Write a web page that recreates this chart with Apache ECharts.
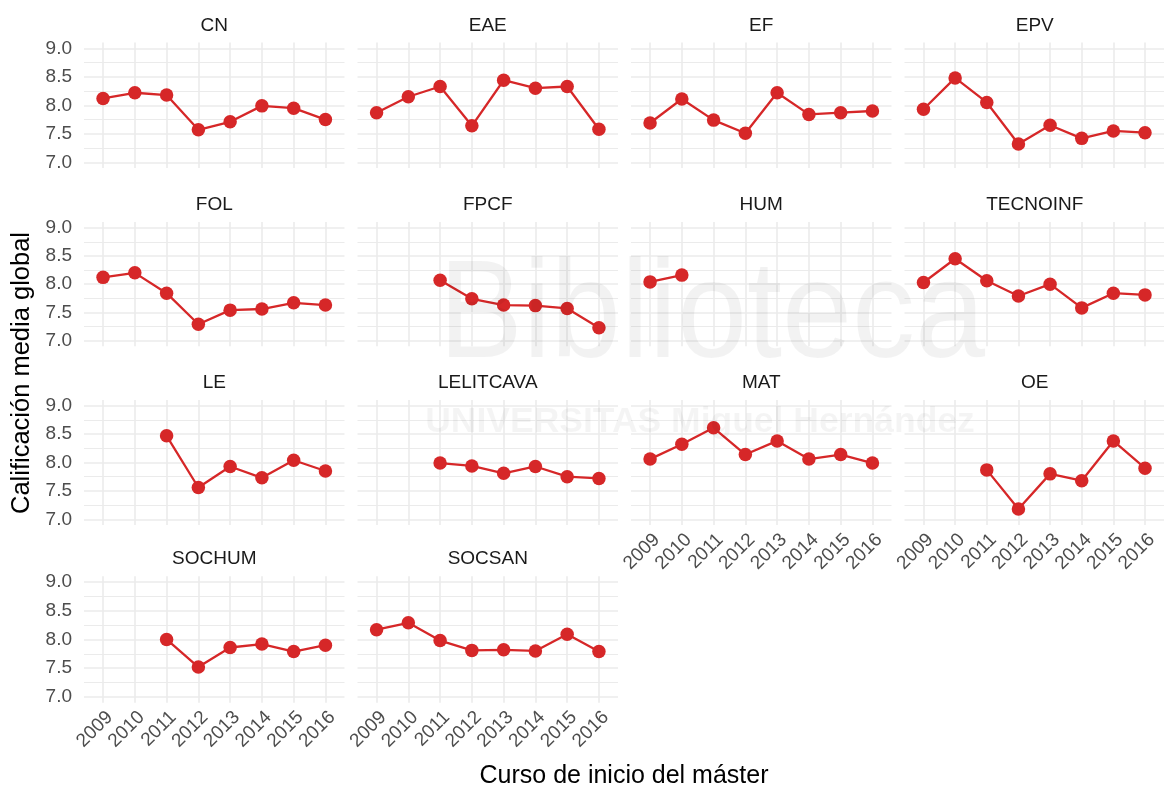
<!DOCTYPE html>
<html>
<head>
<meta charset="utf-8">
<title>Calificación media global por máster</title>
<script src="https://cdn.jsdelivr.net/npm/echarts@6/dist/echarts.min.js"></script>
<style>
  html, body { margin: 0; padding: 0; background: #ffffff; }
  #chart { width: 1164px; height: 789px; }
</style>
</head>
<body>
<div id="chart"></div>
<script>
// Course start years (x axis categories)
const years = [2009, 2010, 2011, 2012, 2013, 2014, 2015, 2016];

// Panel order (facets)
const programs = ['CN', 'EAE', 'EF', 'EPV', 'FOL', 'FPCF', 'HUM', 'TECNOINF',
                  'LE', 'LELITCAVA', 'MAT', 'OE', 'SOCHUM', 'SOCSAN'];

// Mean overall grade per programme and year (null = no cohort that year)
const CN        = [8.12, 8.22, 8.18, 7.57, 7.71, 7.99, 7.95, 7.75];
const EAE       = [7.87, 8.15, 8.33, 7.64, 8.44, 8.30, 8.33, 7.58];
const EF        = [7.69, 8.11, 7.74, 7.51, 8.22, 7.84, 7.87, 7.90];
const EPV       = [7.93, 8.48, 8.05, 7.32, 7.65, 7.42, 7.55, 7.52];
const FOL       = [8.12, 8.20, 7.84, 7.29, 7.54, 7.56, 7.67, 7.63];
const FPCF      = [null, null, 8.07, 7.74, 7.63, 7.62, 7.57, 7.23];
const HUM       = [8.04, 8.16, null, null, null, null, null, null];
const TECNOINF  = [8.03, 8.45, 8.06, 7.79, 8.00, 7.58, 7.84, 7.81];
const LE        = [null, null, 8.47, 7.56, 7.93, 7.73, 8.04, 7.85];
const LELITCAVA = [null, null, 7.99, 7.94, 7.81, 7.93, 7.75, 7.72];
const MAT       = [8.06, 8.32, 8.61, 8.14, 8.38, 8.06, 8.14, 7.99];
const OE        = [null, null, 7.87, 7.18, 7.80, 7.68, 8.38, 7.90];
const SOCHUM    = [null, null, 8.00, 7.52, 7.86, 7.92, 7.79, 7.90];
const SOCSAN    = [8.17, 8.29, 7.98, 7.81, 7.82, 7.80, 8.09, 7.79];

// Y tick labels (major) and minor grid positions
const yMajorTicks = [7.0, 7.5, 8.0, 8.5, 9.0];
const yMinorTicks = [7.25, 7.75, 8.25, 8.75];

const valuesByProgram = {
  CN, EAE, EF, EPV, FOL, FPCF, HUM, TECNOINF, LE, LELITCAVA, MAT, OE, SOCHUM, SOCSAN
};

// ---- layout ----
const colLeft = [84, 357.5, 631, 904.5];
const panelWidth = 260.5;
const rowTop = [42.6, 222, 400, 576.2];
const rowHeight = [125.4, 124.3, 125, 126.5];
const panelsWithXLabels = ['MAT', 'OE', 'SOCHUM', 'SOCSAN'];

const LINE_RED = '#D62728';
const GRID_GREY = '#EBEBEB';
const FONT = '"Liberation Sans", Arial, Helvetica, sans-serif';

const grids = [], xAxes = [], yAxes = [], series = [], graphics = [];

programs.forEach((name, i) => {
  const row = Math.floor(i / 4), col = i % 4;
  const left = colLeft[col], top = rowTop[row], height = rowHeight[row];

  grids.push({ left: left, top: top, width: panelWidth, height: height });

  const showX = panelsWithXLabels.indexOf(name) >= 0;
  xAxes.push({
    type: 'value', gridIndex: i,
    min: 2008.4, max: 2016.6,
    axisLine: { show: false },
    axisTick: { show: false, customValues: years },
    axisLabel: {
      show: showX, customValues: years, rotate: 45, margin: 5,
      verticalAlign: 'top',
      color: '#4D4D4D', fontSize: 19, fontFamily: FONT,
      formatter: v => String(v)
    },
    splitLine: { show: true, lineStyle: { color: GRID_GREY, width: 1.6 } }
  });

  // major horizontal grid + labels
  yAxes.push({
    type: 'value', gridIndex: i,
    min: 6.9, max: 9.1,
    axisLine: { show: false },
    axisTick: { show: false, customValues: yMajorTicks },
    axisLabel: {
      show: col === 0, customValues: yMajorTicks, margin: 12,
      color: '#4D4D4D', fontSize: 19, fontFamily: FONT,
      formatter: v => v.toFixed(1)
    },
    splitLine: { show: true, lineStyle: { color: GRID_GREY, width: 1.6 } }
  });
  // minor horizontal grid
  yAxes.push({
    type: 'value', gridIndex: i,
    min: 6.9, max: 9.1,
    axisLine: { show: false },
    axisTick: { show: false, customValues: yMinorTicks },
    axisLabel: { show: false, customValues: yMinorTicks },
    splitLine: { show: true, lineStyle: { color: GRID_GREY, width: 1.1 } }
  });

  const vals = valuesByProgram[name];
  const pts = [];
  years.forEach((y, k) => { if (vals[k] !== null) pts.push([y, vals[k]]); });

  series.push({
    type: 'line', name: name,
    xAxisIndex: i, yAxisIndex: 2 * i,
    data: pts,
    symbol: 'circle', symbolSize: 13.5,
    lineStyle: { color: LINE_RED, width: 2.3 },
    itemStyle: { color: LINE_RED },
    emphasis: { disabled: true },
    animation: false, silent: true, z: 5
  });

  // facet strip label
  graphics.push({
    type: 'text',
    x: left + panelWidth / 2, y: top - 17,
    style: {
      text: name, fill: '#1A1A1A', fontSize: 19, fontFamily: FONT,
      textAlign: 'center', textVerticalAlign: 'middle'
    }
  });
});

// Axis titles
graphics.push({
  type: 'text', x: 624, y: 776,
  style: {
    text: 'Curso de inicio del máster', fill: '#000000', fontSize: 25, fontFamily: FONT,
    textAlign: 'center', textVerticalAlign: 'middle'
  }
});
graphics.push({
  type: 'text', x: 22, y: 373, rotation: Math.PI / 2,
  style: {
    text: 'Calificación media global', fill: '#000000', fontSize: 25.5, fontFamily: FONT,
    textAlign: 'center', textVerticalAlign: 'middle'
  }
});

// Faint library watermark laid over the figure
graphics.push({
  type: 'text', x: 712, y: 318, z: 100, silent: true, scaleX: 0.9,
  style: {
    text: 'Biblioteca', fill: 'rgba(0,0,0,0.05)', fontSize: 140, fontFamily: FONT,
    textAlign: 'center', textVerticalAlign: 'middle'
  }
});
graphics.push({
  type: 'text', x: 700, y: 422, z: 100, silent: true,
  style: {
    text: 'UNIVERSITAS Miguel Hernández', fill: 'rgba(0,0,0,0.045)', fontSize: 35.5,
    fontWeight: 'bold', fontFamily: FONT,
    textAlign: 'center', textVerticalAlign: 'middle'
  }
});

const chart = echarts.init(document.getElementById('chart'), null, { renderer: 'canvas' });
chart.setOption({
  animation: false,
  backgroundColor: '#ffffff',
  grid: grids,
  xAxis: xAxes,
  yAxis: yAxes,
  series: series,
  graphic: graphics
});
</script>
</body>
</html>
